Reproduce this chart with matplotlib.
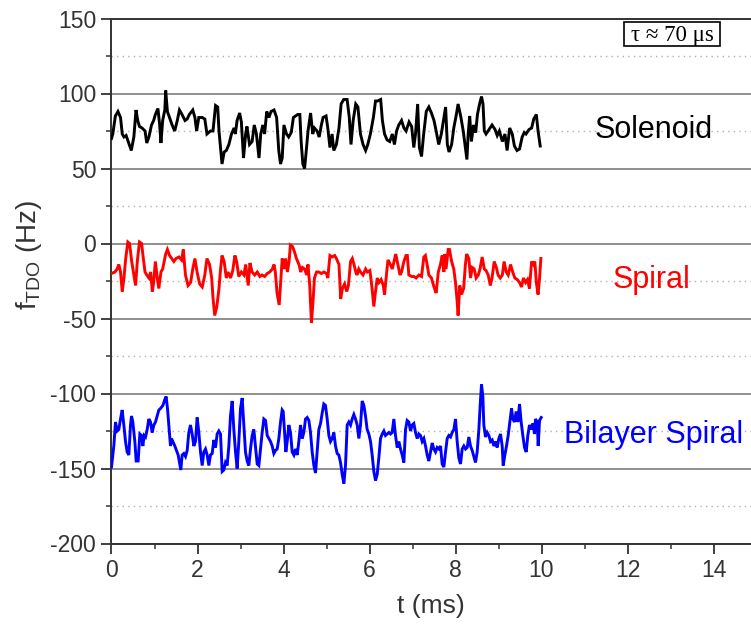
import matplotlib
matplotlib.use("Agg")
import matplotlib.pyplot as plt
from matplotlib.ticker import MultipleLocator
from matplotlib.patches import Rectangle

# ---------------- data ----------------
sol_t = [0.00, 0.03, 0.09, 0.15, 0.21, 0.25, 0.29, 0.34, 0.40, 0.46, 0.52, 0.57, 0.61, 0.65, 0.71, 0.78,
         0.82, 0.87, 0.93, 0.98, 1.02, 1.08, 1.12, 1.15, 1.19, 1.24, 1.26, 1.30, 1.35, 1.41, 1.47, 1.53,
         1.58, 1.64, 1.71, 1.76, 1.81, 1.89, 1.94, 1.98, 2.03, 2.11, 2.17, 2.22, 2.30, 2.36, 2.42, 2.47,
         2.50, 2.54, 2.57, 2.62, 2.67, 2.73, 2.79, 2.85, 2.88, 2.92, 2.98, 3.02, 3.07, 3.12, 3.15, 3.21,
         3.27, 3.32, 3.37, 3.43, 3.47, 3.52, 3.56, 3.61, 3.66, 3.71, 3.78, 3.84, 3.89, 3.93, 3.97, 4.01,
         4.07, 4.12, 4.18, 4.23, 4.28, 4.33, 4.38, 4.41, 4.45, 4.49, 4.53, 4.57, 4.63, 4.68, 4.72, 4.78,
         4.83, 4.88, 4.92, 4.99, 5.03, 5.08, 5.13, 5.17, 5.23, 5.29, 5.34, 5.40, 5.48, 5.53, 5.57, 5.62,
         5.68, 5.73, 5.79, 5.85, 5.91, 5.96, 6.02, 6.09, 6.14, 6.19, 6.26, 6.30, 6.35, 6.41, 6.47, 6.53,
         6.58, 6.63, 6.68, 6.745, 6.80, 6.85, 6.92, 6.98, 7.03, 7.07, 7.12, 7.16, 7.21, 7.26, 7.32, 7.38,
         7.44, 7.50, 7.55, 7.61, 7.67, 7.73, 7.77, 7.81, 7.85, 7.91, 7.96, 8.02, 8.06, 8.12, 8.18, 8.22,
         8.265, 8.295, 8.33, 8.37, 8.42, 8.47, 8.51, 8.56, 8.605, 8.64, 8.67, 8.71, 8.78, 8.85, 8.92, 8.97,
         9.02, 9.09, 9.15, 9.20, 9.26, 9.32, 9.37, 9.43, 9.49, 9.55, 9.60, 9.64, 9.71, 9.77, 9.82, 9.88,
         9.92, 9.97]
sol_v = [70, 73, 85, 88, 84, 73, 71, 72, 67, 62, 71, 89, 82, 78, 77, 75,
         67, 71, 79, 82, 86, 90, 79, 67, 82, 89, 102, 88, 84, 79, 75, 82,
         89, 86, 82, 83, 86, 89, 84, 75, 84, 84, 83, 73, 75, 75, 92, 91,
         75, 62, 53, 61, 62, 66, 73, 77, 73, 82, 87, 81, 57, 73, 78, 66,
         68, 79, 73, 57, 73, 79, 73, 88, 84, 88, 89, 84, 62, 53, 57, 79,
         73, 71, 74, 84, 85, 86, 86, 68, 53, 50, 62, 75, 87, 73, 77, 75,
         71, 79, 84, 85, 77, 64, 73, 62, 66, 77, 93, 96, 96, 84, 66, 82,
         93, 91, 73, 66, 62, 66, 73, 84, 95, 95, 96, 82, 73, 69, 68, 73,
         66, 75, 79, 82, 77, 75, 81, 78, 64, 73, 93, 64, 58, 73, 88, 91,
         87, 82, 75, 66, 73, 84, 91, 66, 61, 66, 77, 86, 93, 85, 75, 66,
         56, 73, 85, 68, 79, 74, 86, 93, 98, 93, 75, 73, 76, 79, 76, 72,
         75, 68, 73, 62, 77, 73, 65, 62, 63, 71, 74, 73, 76, 77, 83, 86,
         75, 65]

spi_t = [0.00, 0.08, 0.13, 0.17, 0.21, 0.25, 0.29, 0.33, 0.38, 0.42, 0.47, 0.52, 0.56, 0.60, 0.65, 0.70,
         0.74, 0.78, 0.82, 0.87, 0.91, 0.95, 0.98, 1.02, 1.06, 1.10, 1.15, 1.19, 1.26, 1.30, 1.35, 1.40,
         1.45, 1.50, 1.57, 1.63, 1.67, 1.72, 1.78, 1.84, 1.89, 1.94, 1.99, 2.05, 2.11, 2.17, 2.22, 2.28,
         2.33, 2.36, 2.40, 2.45, 2.50, 2.53, 2.57, 2.62, 2.67, 2.71, 2.77, 2.82, 2.87, 2.91, 2.96, 3.02,
         3.08, 3.12, 3.18, 3.22, 3.27, 3.33, 3.39, 3.45, 3.50, 3.56, 3.62, 3.68, 3.74, 3.78, 3.81, 3.85,
         3.90, 3.93, 3.97, 4.01, 4.05, 4.09, 4.13, 4.16, 4.21, 4.26, 4.30, 4.36, 4.40, 4.44, 4.49, 4.54,
         4.57, 4.61, 4.65, 4.69, 4.72, 4.77, 4.82, 4.88, 4.94, 5.00, 5.03, 5.08, 5.13, 5.19, 5.23, 5.29,
         5.33, 5.37, 5.42, 5.47, 5.51, 5.56, 5.60, 5.64, 5.68, 5.71, 5.75, 5.79, 5.85, 5.91, 5.95, 6.01,
         6.06, 6.10, 6.14, 6.18, 6.22, 6.27, 6.32, 6.35, 6.40, 6.43, 6.47, 6.53, 6.57, 6.61, 6.66, 6.71,
         6.745, 6.80, 6.85, 6.88, 6.915, 6.98, 7.03, 7.085, 7.15, 7.21, 7.264, 7.30, 7.34, 7.38, 7.44, 7.50,
         7.55, 7.60, 7.65, 7.69, 7.73, 7.75, 7.78, 7.83, 7.86, 7.91, 7.96, 8.00, 8.04, 8.06, 8.10, 8.14,
         8.19, 8.23, 8.26, 8.31, 8.35, 8.39, 8.435, 8.48, 8.53, 8.57, 8.62, 8.67, 8.71, 8.76, 8.81, 8.85,
         8.90, 8.95, 8.99, 9.04, 9.09, 9.13, 9.18, 9.225, 9.28, 9.33, 9.38, 9.435, 9.49, 9.535, 9.58, 9.63,
         9.675, 9.72, 9.77, 9.815, 9.845, 9.88, 9.92, 9.955, 9.985]
spi_v = [-20, -19, -17, -14, -19, -32, -23, -10, 1, 0, -12, -21, -28, -12, 1, 0,
         -10, -19, -21, -23, -19, -32, -26, -12, -22, -30, -19, -17, -7, -4, -8, -10,
         -12, -10, -9, -11, -4, -21, -28, -26, -17, -10, -19, -27, -29, -21, -10, -14,
         -23, -36, -48, -42, -30, -19, -8, -12, -23, -19, -23, -18, -8, -12, -22, -19,
         -21, -14, -28, -13, -19, -21, -19, -22, -21, -22, -20, -19, -17, -14, -19, -33,
         -41, -28, -10, -17, -10, -19, -12, -1, -2, -6, -10, -14, -19, -16, -17, -21,
         -14, -28, -53, -37, -23, -19, -19, -20, -19, -20, -23, -8, -9, -8, -10, -14,
         -37, -30, -27, -32, -28, -12, -10, -14, -19, -21, -17, -19, -21, -17, -19, -18,
         -30, -42, -32, -23, -26, -24, -28, -34, -19, -11, -13, -17, -12, -7, -14, -21,
         -19, -12, -8, -8, -21, -22, -22, -23, -21, -22, -9, -8, -14, -21, -23, -29,
         -33, -19, -14, -8, -19, -7, -17, -4, -4, -12, -17, -26, -39, -48, -28, -34,
         -30, -14, -7, -10, -23, -16, -17, -23, -21, -17, -9, -17, -18, -21, -28, -23,
         -12, -16, -21, -23, -21, -12, -19, -21, -14, -19, -23, -24, -26, -29, -23, -26,
         -24, -30, -12, -14, -12, -26, -34, -23, -10]

bil_t = [0.00, 0.054, 0.093, 0.132, 0.17, 0.21, 0.248, 0.287, 0.326, 0.364, 0.403, 0.442, 0.465, 0.496,
         0.543, 0.574, 0.62, 0.659, 0.698, 0.729, 0.76, 0.791, 0.83, 0.868, 0.907, 0.946, 0.985, 1.023,
         1.062, 1.101, 1.14, 1.194, 1.24, 1.271, 1.302, 1.333, 1.372, 1.395, 1.426, 1.473, 1.512, 1.55,
         1.581, 1.612, 1.643, 1.682, 1.721, 1.76, 1.798, 1.837, 1.876, 1.915, 1.953, 1.992, 2.031, 2.07,
         2.109, 2.147, 2.186, 2.225, 2.264, 2.302, 2.341, 2.38, 2.419, 2.457, 2.496, 2.535, 2.574, 2.612,
         2.651, 2.69, 2.729, 2.767, 2.806, 2.845, 2.884, 2.922, 2.961, 3.0, 3.039, 3.078, 3.116, 3.155,
         3.194, 3.233, 3.271, 3.31, 3.388, 3.427, 3.466, 3.504, 3.543, 3.582, 3.621, 3.659, 3.698, 3.737,
         3.776, 3.814, 3.853, 3.892, 3.931, 3.969, 3.993, 4.024, 4.055, 4.086, 4.124, 4.163, 4.202, 4.241,
         4.279, 4.318, 4.357, 4.396, 4.435, 4.473, 4.512, 4.551, 4.59, 4.628, 4.667, 4.706, 4.745, 4.783,
         4.822, 4.861, 4.9, 4.938, 4.977, 5.016, 5.055, 5.093, 5.132, 5.171, 5.21, 5.248, 5.287, 5.326,
         5.365, 5.404, 5.442, 5.481, 5.52, 5.559, 5.597, 5.636, 5.675, 5.714, 5.752, 5.791, 5.83, 5.869,
         5.907, 5.946, 5.985, 6.024, 6.062, 6.101, 6.14, 6.179, 6.217, 6.256, 6.295, 6.334, 6.372, 6.411,
         6.45, 6.489, 6.527, 6.566, 6.605, 6.644, 6.683, 6.721, 6.76, 6.799, 6.838, 6.876, 6.915, 6.954,
         6.993, 7.031, 7.07, 7.109, 7.148, 7.186, 7.225, 7.264, 7.303, 7.341, 7.38, 7.419, 7.458, 7.496,
         7.535, 7.574, 7.613, 7.652, 7.69, 7.729, 7.768, 7.807, 7.845, 7.884, 7.923, 7.962, 8.0, 8.039,
         8.078, 8.117, 8.155, 8.194, 8.233, 8.272, 8.31, 8.349, 8.388, 8.427, 8.465, 8.504, 8.543, 8.582,
         8.605, 8.636, 8.659, 8.698, 8.737, 8.776, 8.814, 8.853, 8.892, 8.931, 8.969, 9.008, 9.047, 9.086,
         9.109, 9.148, 9.186, 9.225, 9.264, 9.303, 9.334, 9.372, 9.411, 9.45, 9.489, 9.527, 9.566, 9.605,
         9.644, 9.682, 9.721, 9.76, 9.799, 9.838, 9.861, 9.9, 9.923, 9.954, 9.993]
bil_v = [-149, -135, -119, -125, -124, -117, -111, -121, -132, -139, -141, -121, -115, -119,
         -132, -145, -145, -127, -128, -135, -128, -129, -124, -117, -119, -126, -121, -119,
         -115, -111, -110, -108, -104, -102, -110, -121, -135, -130, -132, -135, -138, -141,
         -146, -151, -141, -140, -142, -138, -126, -121, -127, -135, -132, -116, -126, -139,
         -148, -139, -137, -141, -148, -141, -140, -131, -136, -127, -125, -127, -152, -151,
         -146, -148, -135, -115, -105, -124, -139, -150, -132, -110, -103, -121, -139, -145,
         -148, -137, -128, -124, -147, -148, -137, -126, -117, -118, -128, -130, -132, -135,
         -140, -138, -137, -130, -119, -111, -112, -126, -139, -132, -121, -126, -139, -141,
         -137, -141, -132, -121, -130, -126, -117, -116, -118, -126, -139, -148, -153, -139,
         -124, -120, -113, -107, -108, -117, -128, -132, -130, -126, -135, -140, -141, -146,
         -154, -160, -148, -121, -119, -121, -117, -114, -117, -121, -130, -121, -105, -108,
         -115, -124, -127, -132, -141, -152, -158, -154, -143, -130, -127, -125, -128, -127,
         -126, -127, -126, -117, -128, -136, -132, -137, -141, -146, -124, -118, -119, -125,
         -121, -120, -126, -130, -127, -128, -132, -130, -135, -141, -145, -139, -133, -137,
         -139, -136, -137, -135, -147, -149, -139, -130, -128, -129, -126, -124, -117, -132,
         -143, -147, -137, -135, -137, -136, -129, -135, -138, -142, -146, -139, -124, -104,
         -94, -102, -121, -129, -126, -128, -132, -131, -135, -132, -136, -130, -127, -135,
         -148, -141, -135, -128, -119, -110, -117, -119, -112, -119, -107, -119, -128, -136,
         -139, -128, -121, -124, -120, -127, -117, -119, -135, -118, -116]

series_names = ["Solenoid", "Spiral", "Bilayer Spiral"]
series_colors = ["#000000", "#FF0000", "#0000FF"]
label_pos = [(12.6, 75.5), (12.55, -24.5), (12.6, -128)]

x_ticks = [0, 2, 4, 6, 8, 10, 12, 14]
y_ticks = [-200, -150, -100, -50, 0, 50, 100, 150]
annotation = "τ ≈ 70 μs"

# ---------------- figure ----------------
plt.rcParams['font.family'] = ['Liberation Sans', 'DejaVu Sans']
plt.rcParams['axes.unicode_minus'] = False
W, H = 751, 629
fig = plt.figure(figsize=(W / 100, H / 100), dpi=100)
ax = fig.add_axes([111.5 / W, 1 - 543.5 / H, (W - 111.5) / W, 525 / H])

for y in y_ticks:
    ax.axhline(y, color="#8f8f8f", lw=1.4, zorder=1)
for y in [-175, -125, -75, -25, 25, 75, 125]:
    ax.axhline(y, color="#b0b0b0", lw=1.0, ls=(0, (1, 3)), zorder=1)

for t, v, c in zip([sol_t, spi_t, bil_t], [sol_v, spi_v, bil_v], series_colors):
    ax.plot(t, v, color=c, lw=2.1, zorder=3, solid_joinstyle="miter")

for name, (x, y), c in zip(series_names, label_pos, series_colors):
    ax.text(x, y, name, color=c, fontsize=22, ha="center", va="center")

# annotation box (pixel-based layout)
bx0, bx1, by0, by1 = 624 / W, 720 / W, 1 - 46 / H, 1 - 22 / H
fig.patches.append(Rectangle((bx0, by0), bx1 - bx0, by1 - by0, transform=fig.transFigure,
                             facecolor="white", edgecolor="black", lw=1.2, zorder=5))
fig.text((bx0 + bx1) / 2, (by0 + by1) / 2 - 0.002, annotation,
         family=["Liberation Serif", "DejaVu Serif"], fontsize=16.5,
         ha="center", va="center", zorder=6)

ax.set_xlim(0, (W - 111.5) / 43.0)
ax.set_ylim(-200, 150)
ax.set_xticks(x_ticks)
ax.set_yticks(y_ticks)
ax.xaxis.set_minor_locator(MultipleLocator(1))
ax.yaxis.set_minor_locator(MultipleLocator(25))
ax.tick_params(axis="both", which="major", direction="out", length=7, width=1.3,
               labelsize=16.5, colors="#333333", labelcolor="#333333", pad=4)
ax.tick_params(axis="both", which="minor", direction="out", length=3.5, width=1.1, colors="#333333")

for s in ["left", "bottom", "top"]:
    ax.spines[s].set_linewidth(1.4)
    ax.spines[s].set_color("#333333")
ax.spines["right"].set_visible(False)

ax.set_xlabel("t (ms)", fontsize=19, color="#333333", labelpad=9)
ax.set_ylabel(r"f$_{\mathregular{TDO}}$ (Hz)", fontsize=20, color="#333333")
ax.yaxis.set_label_coords(-0.105, 0.55)

fig.savefig("out.png", dpi=100)
